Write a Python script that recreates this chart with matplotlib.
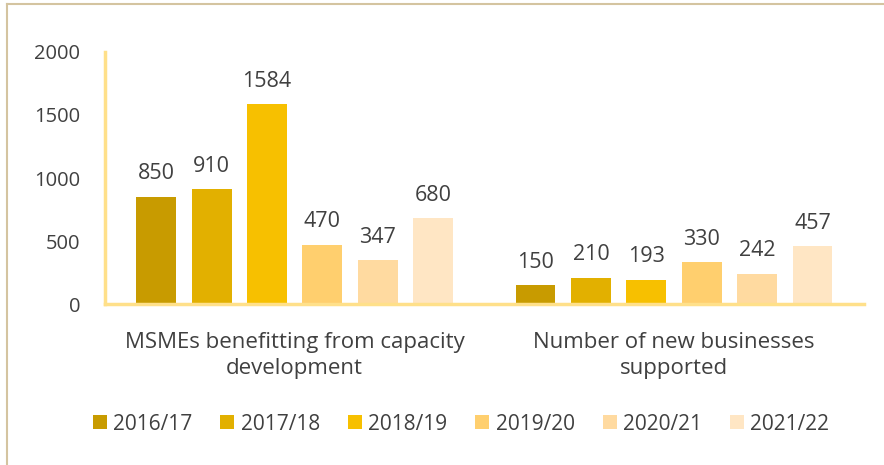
import matplotlib.pyplot as plt
import numpy as np

plt.rcParams['font.family'] = ['Open Sans', 'DejaVu Sans']

categories = ['MSMEs benefitting from capacity\ndevelopment', 'Number of new businesses\nsupported']
years = ['2016/17', '2017/18', '2018/19', '2019/20', '2020/21', '2021/22']
values = {
    '2016/17': [850, 150],
    '2017/18': [910, 210],
    '2018/19': [1584, 193],
    '2019/20': [470, 330],
    '2020/21': [347, 242],
    '2021/22': [680, 457],
}
colors = ['#C89B00', '#E2B000', '#F7C000', '#FFCF6E', '#FFDAA0', '#FFE6C4']
text_col = '#404040'

fig = plt.figure(figsize=(8.84, 4.65), dpi=100)
ax = fig.add_axes([0.1188, 0.3462, 0.977 - 0.1188, 0.542])

x = np.arange(len(categories))
step = 0.146
width = 0.105
for k, yr in enumerate(years):
    pos = x + (k - 2.5) * step
    bars = ax.bar(pos, values[yr], width, color=colors[k], label=yr, zorder=2)
    for b, v in zip(bars, values[yr]):
        ax.annotate(str(v), (b.get_x() + b.get_width() / 2, v),
                    xytext=(0, 9), textcoords='offset points',
                    ha='center', va='bottom', fontsize=15.5, color=text_col)

ax.set_xlim(-0.5, 1.5)
ax.set_ylim(0, 2000)
ax.set_yticks([0, 500, 1000, 1500, 2000])
ax.set_xticks(x)
ax.set_xticklabels(categories, fontsize=16, color=text_col, linespacing=1.32)
ax.tick_params(axis='x', length=0, pad=20)
ax.tick_params(axis='y', length=0, pad=18, labelsize=14.5, labelcolor=text_col)

for s in ['top', 'right']:
    ax.spines[s].set_visible(False)
for s in ['left', 'bottom']:
    ax.spines[s].set_color('#FFE08A')
    ax.spines[s].set_linewidth(2.5)

leg = fig.legend(loc='center', bbox_to_anchor=(0.5215, 0.088), ncol=6, frameon=False,
                 fontsize=15, handlelength=0.67, handleheight=0.67,
                 handletextpad=0.3, columnspacing=1.35)
for t in leg.get_texts():
    t.set_color(text_col)

# thin frame lines along the top and left edges
fig.add_artist(plt.Line2D([7 / 884, 1], [1 - 4 / 465, 1 - 4 / 465],
                          transform=fig.transFigure, color='#D4C4A0', lw=1.5))
fig.add_artist(plt.Line2D([7 / 884, 7 / 884], [0, 1 - 4 / 465],
                          transform=fig.transFigure, color='#D4C4A0', lw=1.5))

plt.savefig('out.png', dpi=100)
